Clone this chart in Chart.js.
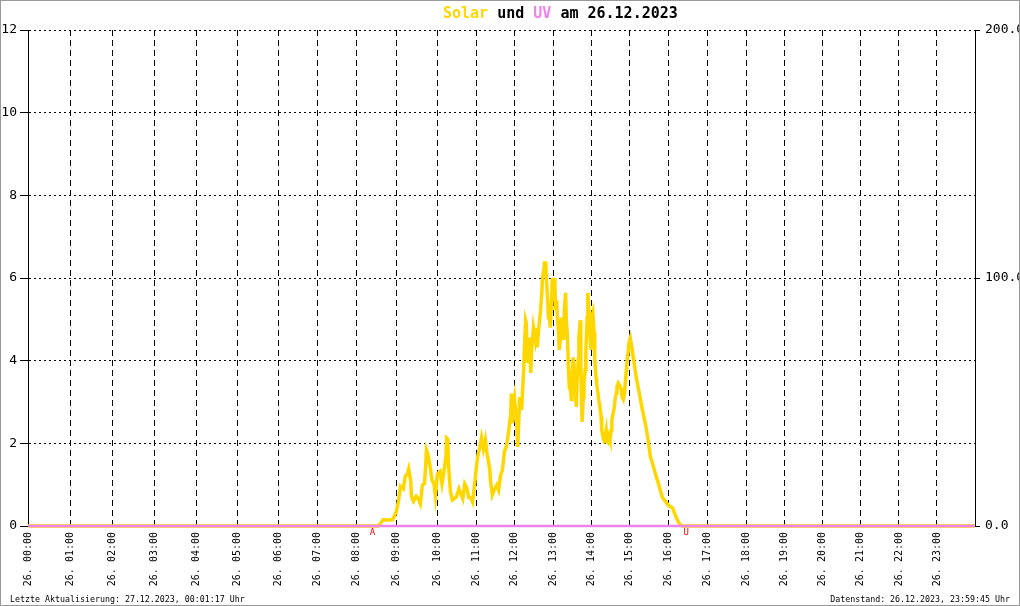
<!DOCTYPE html>
<html><head><meta charset="utf-8">
<script src="https://cdn.jsdelivr.net/npm/chart.js@4"></script>
<style>html,body{margin:0;padding:0;background:#fff}#wrap{width:1020px;height:606px;position:relative}</style>
</head><body><div id="wrap"><canvas id="c" width="1020" height="606"></canvas></div>
<script>
// ---- data ----
const hourLabels = ['26. 00:00','26. 01:00','26. 02:00','26. 03:00','26. 04:00','26. 05:00','26. 06:00','26. 07:00',
  '26. 08:00','26. 09:00','26. 10:00','26. 11:00','26. 12:00','26. 13:00','26. 14:00','26. 15:00',
  '26. 16:00','26. 17:00','26. 18:00','26. 19:00','26. 20:00','26. 21:00','26. 22:00','26. 23:00'];
// number of logged records per hour (x axis is record-index based)
const samplesPerHour = [42,42,42,42,41,41,39,39,40,41,39,38,39,38,38,39,39,39,38,38,38,38,38,38];

const solarTimes = ['00:00','08:33','08:36','08:40','08:48','08:54','08:57',
 '09:00','09:03','09:06','09:10','09:13','09:16','09:18','09:21','09:22','09:25','09:29','09:32','09:35','09:38','09:41','09:43','09:44','09:46','09:49','09:52','09:55','09:57',
 '10:00','10:04','10:07','10:10','10:13','10:14','10:16','10:17','10:20','10:23','10:26','10:29','10:33','10:36','10:39','10:42','10:45','10:48','10:51','10:54','10:57',
 '11:00','11:02','11:03','11:06','11:08','11:11','11:14','11:17','11:21','11:22','11:25','11:28','11:32','11:35','11:38','11:41','11:44','11:47','11:51','11:54','11:55','11:57','11:58',
 '12:00','12:03','12:05','12:08','12:11','12:14','12:15','12:17','12:18','12:20','12:22','12:23','12:25','12:26','12:29','12:32','12:34','12:35','12:37','12:40','12:42','12:43','12:45','12:46','12:48','12:49','12:51','12:52','12:54','12:55','12:57','12:58',
 '13:00','13:02','13:03','13:05','13:06','13:08','13:09','13:11','13:12','13:14','13:16','13:17','13:19','13:20','13:22','13:23','13:25','13:26','13:28','13:29','13:31','13:33','13:34','13:36','13:37','13:39','13:40','13:42','13:43','13:45','13:47','13:48','13:50','13:51','13:53','13:54','13:56','13:57','13:59',
 '14:00','14:02','14:04','14:05','14:07','14:08','14:10','14:12','14:13','14:15','14:16','14:18','14:20','14:21','14:23','14:24','14:26','14:28','14:29','14:31','14:32','14:34','14:36','14:37','14:39','14:40','14:42','14:44','14:45','14:47','14:48','14:50','14:52','14:53','14:55','14:56','14:58','14:59',
 '15:01','15:04','15:07','15:10','15:13','15:16','15:19','15:23','15:26','15:29','15:32','15:35','15:38','15:41','15:44','15:47','15:50','15:53','15:56','15:59',
 '16:03','16:06','16:09','16:12','16:15','16:18','16:21','23:59:45'];
const solarValues = [0,0,1,2.5,2.4,2.5,4,
 6,10,16,15,20,21,23,18,12,10,12,11,9,16.5,17,25,30.6,29,24.6,18.5,17,12,
 21,22,17,22,28,35.5,35,24.6,13.7,10.5,11,11.7,15,13,11,17,15.5,11.5,11.5,9.7,16.5,
 24,28,29.4,32.6,35.5,31,34.7,28.6,23,18.5,12.5,14.5,16.5,14.5,20.5,22.6,30,32,38.7,45,53.4,41.5,48,
 51.6,42.7,31.9,52,46.8,62.9,70.2,83,82,65.7,72,76,61.7,69.8,80,75,79.8,72,79,87,94,100.4,103,106,106,100,91,84,83,80,91,100,
 96,100,87,91,84,78,71,76,84,80,75,87,94,84,76,67,55,59,51,60,68,63,55,48,57.6,67,76,83,65,42,52,57.6,63,71,84,94,86,79,71,
 84,86,78,67,60,57.6,53.6,49.6,48,44,38.7,36,34,36,38.7,35,34,36,35,38.7,42.7,45.5,48,51,53.6,56,57.6,56.8,56,55,52,51,53.6,57.6,63,67,71,74,
 75.8,71,65.7,60,56,52,47.6,42.7,38.7,33.5,27.8,25.4,22.6,19.8,17.3,14.5,11.7,10.5,9.7,8.5,
 7.7,7.3,5.2,3.2,1.6,0.4,0,0];

const uvTimes = ['00:00','23:59:45'];
const uvValues = [0,0];

const eventLabels = ['A','U'];          // Sonnenaufgang / Sonnenuntergang
const eventTimes = ['08:24','16:27'];

const titleParts = ['Solar',' und ','UV',' am 26.12.2023'];
const footerLeft = 'Letzte Aktualisierung: 27.12.2023, 00:01:17 Uhr';
const footerRight = 'Datenstand: 26.12.2023, 23:59:45 Uhr';

// ---- helpers ----
const cum = [0];
samplesPerHour.forEach((n,i)=>cum.push(cum[i]+n));
function toIndex(t){
  const p = t.split(':').map(Number);
  const h = p[0], m = p[1] + (p[2]||0)/60;
  return cum[h] + m/60*samplesPerHour[h];
}
const SOLAR = '#FFD700', UV = '#EE82EE';
const MONO = '"DejaVu Sans Mono", "Liberation Mono", monospace';

const decor = {
  id: 'decor',
  beforeDraw(chart){
    const c = chart.ctx; c.save(); c.fillStyle = '#fff'; c.fillRect(0,0,chart.width,chart.height); c.restore();
  },
  afterDraw(chart){
    const c = chart.ctx, xs = chart.scales.x;
    c.save();
    // title
    c.font = 'bold 15px ' + MONO; c.textBaseline = 'alphabetic'; c.textAlign = 'left';
    const cols = [SOLAR,'#000',UV,'#000'];
    let x = 443;
    titleParts.forEach((s,i)=>{ c.fillStyle = cols[i]; c.fillText(s, x, 18); x += c.measureText(s).width; });
    // sunrise / sunset markers
    c.font = '9px ' + MONO; c.fillStyle = '#f00'; c.textAlign = 'center';
    eventLabels.forEach((l,i)=>{ c.fillText(l, xs.getPixelForValue(toIndex(eventTimes[i])), 535); });
    // footers
    c.fillStyle = '#000'; c.font = '8.3px ' + MONO;
    c.textAlign = 'left'; c.fillText(footerLeft, 10, 602);
    c.textAlign = 'right'; c.fillText(footerRight, 1010, 602);
    // frame
    c.strokeStyle = '#999'; c.lineWidth = 1; c.strokeRect(0.5,0.5,chart.width-1,chart.height-1);
    c.restore();
  }
};

new Chart(document.getElementById('c'), {
  type: 'line',
  data: {
    datasets: [
      { label:'UV', yAxisID:'y', order: 0, clip: false, data: uvTimes.map((t,i)=>({x:toIndex(t), y:uvValues[i]})),
        borderColor: UV, borderWidth: 2.6, pointRadius: 0, tension: 0 },
      { label:'Solar', yAxisID:'y1', order: 5, clip: false, data: solarTimes.map((t,i)=>({x:toIndex(t), y:solarValues[i]})),
        borderColor: SOLAR, borderWidth: 3.5, pointRadius: 0, tension: 0 }
    ]
  },
  options: {
    responsive: false, animation: false, devicePixelRatio: 1,
    layout: { padding: { top: 30, left: 0, right: 0, bottom: 0 } },
    plugins: { legend: { display: false }, tooltip: { enabled: false }, title: { display: false } },
    scales: {
      x: {
        type: 'linear', min: 0, max: cum[24],
        afterBuildTicks(s){ s.ticks = cum.slice(0,24).map(v=>({value:v})); },
        afterFit(s){ s.height = 80; },
        ticks: { autoSkip:false, maxRotation:90, minRotation:90, padding:6, color:'#000',
          font:{ family: MONO, size:10 }, callback:(v,i)=>hourLabels[i] },
        grid: { color: ctx => ctx.index===0 ? 'rgba(0,0,0,0)' : '#000', lineWidth:1, drawTicks:false },
        border: { display:false, dash:[6,4] }
      },
      y: {
        position:'left', min:0, max:12,
        afterFit(s){ s.width = 28; },
        ticks: { stepSize:2, padding:3, color:'#000', font:{ family: MONO, size:13 } },
        grid: { color:'#000', lineWidth:1, tickLength:8, tickColor:'#000' },
        border: { display:true, color:'#000', width:1, dash:[2,3] }
      },
      y1: {
        position:'right', min:0, max:200,
        afterFit(s){ s.width = 45; },
        ticks: { stepSize:100, padding:5, color:'#000', font:{ family: MONO, size:13 }, callback:v=>v.toFixed(1) },
        grid: { drawOnChartArea:false, tickLength:5, tickColor:'#000', color:'#000' },
        border: { display:true, color:'#000', width:1 }
      }
    }
  },
  plugins: [decor]
});
</script>
</body></html>
